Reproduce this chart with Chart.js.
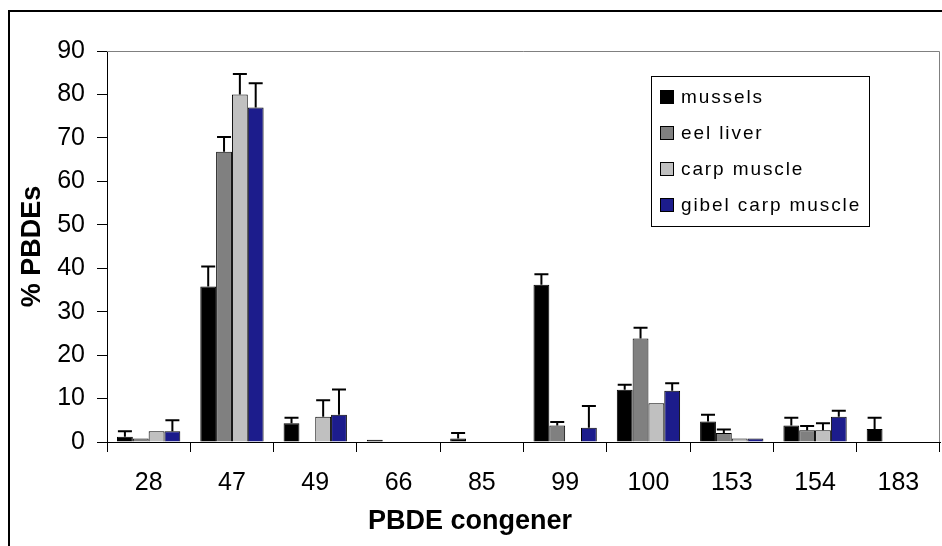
<!DOCTYPE html>
<html>
<head>
<meta charset="utf-8">
<script src="https://cdn.jsdelivr.net/npm/chart.js@4.4.1/dist/chart.umd.min.js"></script>
<style>
html, body { margin: 0; padding: 0; background: #fff; }
#wrap { width: 942px; height: 546px; }
</style>
</head>
<body>
<div id="wrap"><canvas id="chart" width="942" height="546"></canvas></div>
<script>
// Dati
const congeners = ['28', '47', '49', '66', '85', '99', '100', '153', '154', '183'];

const mussels    = [1.2, 35.8, 4.3, 0.5, 0.8, 36.2, 12.0, 4.7, 3.8, 3.0];
const musselsErr = [1.3, 4.6, 1.3, 0, 1.3, 2.4, 1.2, 1.6, 1.8, 2.6];

const eelLiver    = [0.8, 66.8, 0, 0, 0, 3.8, 23.8, 2.1, 2.7, 0.1];
const eelLiverErr = [0, 3.4, 0, 0, 0, 0.8, 2.5, 0.8, 1.0, 0];

const carpMuscle    = [2.5, 80.0, 5.8, 0, 0, 0, 8.9, 0.8, 2.7, 0.1];
const carpMuscleErr = [0, 4.7, 3.8, 0, 0, 0, 0, 0, 1.6, 0];

const gibelMuscle    = [2.5, 77.0, 6.3, 0, 0, 3.3, 11.8, 0.8, 5.8, 0.1];
const gibelMuscleErr = [2.5, 5.6, 5.8, 0, 0, 5.0, 1.7, 0, 1.4, 0];

const yTicks = [0, 10, 20, 30, 40, 50, 60, 70, 80, 90];

const FONT = 'Arial, "Liberation Sans", sans-serif';

// Barre di errore (solo verso l'alto, con cappuccio)
const errorBars = {
    id: 'errorBars',
    afterDatasetsDraw(chart) {
        const ctx = chart.ctx;
        const y = chart.scales.y;
        ctx.save();
        ctx.strokeStyle = '#000';
        ctx.lineWidth = 2;
        chart.data.datasets.forEach((ds, i) => {
            const meta = chart.getDatasetMeta(i);
            meta.data.forEach((bar, j) => {
                const err = ds.errors[j];
                if (!err) return;
                const top = y.getPixelForValue(ds.data[j] + err);
                ctx.beginPath();
                ctx.moveTo(bar.x, bar.y);
                ctx.lineTo(bar.x, top);
                ctx.moveTo(bar.x - 7, top);
                ctx.lineTo(bar.x + 7, top);
                ctx.stroke();
            });
        });
        ctx.restore();
    }
};

// Cornice esterna, bordo dell'area, titolo asse x e legenda nel riquadro
const frameAndLegend = {
    id: 'frameAndLegend',
    afterDraw(chart) {
        const ctx = chart.ctx;
        const area = chart.chartArea;
        ctx.save();
        // cornice
        ctx.strokeStyle = '#000';
        ctx.lineWidth = 2;
        ctx.beginPath();
        ctx.moveTo(9, 560);
        ctx.lineTo(9, 11);
        ctx.lineTo(960, 11);
        ctx.stroke();
        // bordo grigio area
        ctx.strokeStyle = '#808080';
        ctx.lineWidth = 1;
        ctx.beginPath();
        ctx.moveTo(area.left, area.top + 0.5);
        ctx.lineTo(area.right - 0.5, area.top + 0.5);
        ctx.lineTo(area.right - 0.5, area.bottom);
        ctx.stroke();
        // titolo asse x (centrato sul riquadro del grafico, come in Excel)
        ctx.fillStyle = '#000';
        ctx.font = 'bold 27px ' + FONT;
        ctx.textAlign = 'center';
        ctx.textBaseline = 'middle';
        ctx.fillText('PBDE congener', 470, 522);
        // legenda
        const lx = 651, ly = 76, lw = 218, lh = 150;
        ctx.fillStyle = '#fff';
        ctx.fillRect(lx, ly, lw, lh);
        ctx.strokeStyle = '#000';
        ctx.strokeRect(lx + 0.5, ly + 0.5, lw, lh);
        ctx.font = '19px ' + FONT;
        ctx.letterSpacing = '1.9px';
        ctx.textAlign = 'left';
        chart.data.datasets.forEach((ds, i) => {
            const cy = 97 + i * 36;
            ctx.fillStyle = ds.backgroundColor;
            ctx.fillRect(660, cy - 7, 13, 13);
            ctx.strokeStyle = '#000';
            ctx.strokeRect(660.5, cy - 6.5, 13, 13);
            ctx.fillStyle = '#000';
            ctx.fillText(ds.label, 681, cy + 1);
        });
        ctx.restore();
    }
};

function makeDataset(label, values, errors, color) {
    return {
        label: label,
        data: values,
        errors: errors,
        backgroundColor: color,
        borderColor: '#000',
        borderWidth: 1,
        categoryPercentage: 0.76,
        barPercentage: 1.0
    };
}

new Chart(document.getElementById('chart'), {
    type: 'bar',
    data: {
        labels: congeners,
        datasets: [
            makeDataset('mussels', mussels, musselsErr, '#000000'),
            makeDataset('eel liver', eelLiver, eelLiverErr, '#808080'),
            makeDataset('carp muscle', carpMuscle, carpMuscleErr, '#c0c0c0'),
            makeDataset('gibel carp muscle', gibelMuscle, gibelMuscleErr, '#1c1c8c')
        ]
    },
    options: {
        responsive: false,
        animation: false,
        devicePixelRatio: 1,
        layout: { padding: { top: 51, right: 2, left: 9, bottom: 0 } },
        plugins: {
            legend: { display: false },
            tooltip: { enabled: false }
        },
        scales: {
            x: {
                grid: {
                    display: true,
                    drawOnChartArea: false,
                    offset: true,
                    color: '#000',
                    tickLength: 10
                },
                border: { color: '#000', width: 1 },
                ticks: {
                    color: '#000',
                    font: { family: FONT, size: 25 },
                    padding: 16,
                    maxRotation: 0
                },
                title: { display: false },
                afterFit(scale) { scale.height = 104; }
            },
            y: {
                min: 0,
                max: 90,
                afterBuildTicks(scale) {
                    scale.ticks = yTicks.map(v => ({ value: v }));
                },
                grid: {
                    display: true,
                    drawOnChartArea: false,
                    color: '#000',
                    tickLength: 10
                },
                border: { color: '#000', width: 1 },
                ticks: {
                    color: '#000',
                    font: { family: FONT, size: 25 },
                    padding: 12
                },
                title: {
                    display: true,
                    text: '% PBDEs',
                    color: '#000',
                    font: { family: FONT, size: 27, weight: 'bold' },
                    padding: { top: 7, bottom: 0 }
                },
                afterFit(scale) { scale.width = 98; }
            }
        }
    },
    plugins: [errorBars, frameAndLegend]
});
</script>
</body>
</html>
